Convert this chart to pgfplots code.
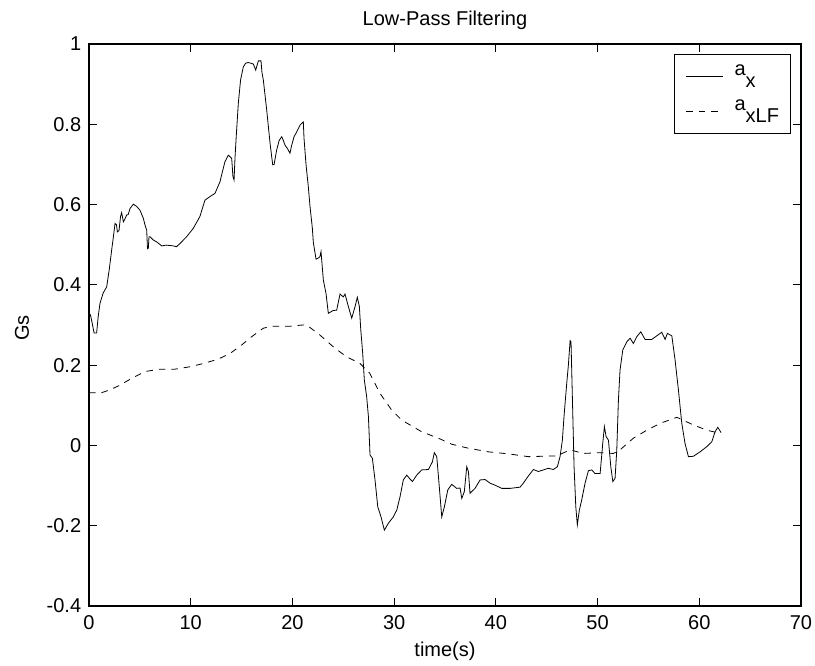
\documentclass[border=0pt]{standalone}
\usepackage{pgfplots}
\pgfplotsset{compat=1.18}
\usepackage{fontspec}
\setmainfont{Liberation Sans}
\begin{document}
\fontsize{20}{24}\selectfont
\begin{tikzpicture}
\useasboundingbox (0,0) rectangle (815pt,666pt);
\begin{axis}[
  at={(89pt,60pt)}, anchor=south west,
  scale only axis, width=712pt, height=562pt,
  xmin=0, xmax=70, ymin=-0.4, ymax=1,
  xtick={0,10,20,30,40,50,60,70},
  ytick={-0.4,-0.2,0,0.2,0.4,0.6,0.8,1},
  tick align=inside, major tick length=8pt,
  axis line style={line width=1.1pt, black},
  tick style={line width=0.8pt, black},
  /pgf/number format/assume math mode=true,
  ticklabel style={font=\fontsize{20}{24}\selectfont},
  xticklabel style={yshift=-3pt},
  yticklabel style={xshift=-1pt},
  title={Low-Pass Filtering},
  every axis title/.style={at={(axis description cs:0.5,1)}, anchor=base, yshift=18pt, font=\fontsize{20}{24}\selectfont},
  xlabel={time(s)},
  every axis x label/.style={at={(axis description cs:0.5,-0.0907)}, anchor=base, font=\fontsize{20}{24}\selectfont},
  ylabel={Gs},
  every axis y label/.style={at={(axis description cs:-0.0843,0.495)}, rotate=90, anchor=base, font=\fontsize{20}{24}\selectfont},
  legend style={at={(1,1)}, anchor=north east, xshift=-10pt, yshift=-10pt,
    draw=black, line width=0.9pt, fill=white,
    inner xsep=11.5pt, inner ysep=9pt, row sep=9pt, column sep=11pt,
    font=\fontsize{20}{24}\selectfont,
    nodes={inner sep=0pt, text height=12pt, text depth=14pt}},
  legend cell align=left,
  legend image code/.code={\draw[#1, line width=0.8pt] (0pt,0pt) -- (37pt,0pt);},
]
\addplot[black, line width=0.8pt] coordinates {
(0.0,0.32) (0.15,0.325) (0.35,0.30) (0.5,0.28) (0.75,0.28) (0.9,0.32)
(1.08,0.354) (1.4,0.38) (1.74,0.395) (2.0,0.44) (2.23,0.487) (2.45,0.53)
(2.56,0.553) (2.7,0.55) (2.79,0.532) (2.95,0.535) (3.1,0.57) (3.21,0.58)
(3.38,0.557) (3.55,0.565) (3.7,0.574) (3.85,0.575) (4.03,0.59) (4.36,0.601)
(4.7,0.595) (5.01,0.586) (5.34,0.566) (5.55,0.545) (5.67,0.537) (5.75,0.49)
(5.83,0.491) (5.9,0.52) (6.0,0.52) (6.3,0.512) (6.65,0.507) (7.15,0.497)
(7.6,0.499) (8.29,0.497) (8.6,0.495) (8.95,0.503) (9.6,0.52) (10.26,0.541)
(10.9,0.57) (11.4,0.611) (11.9,0.62) (12.39,0.628) (12.88,0.657) (13.1,0.68)
(13.37,0.707) (13.7,0.723) (14.03,0.715) (14.15,0.67) (14.26,0.661) (14.36,0.719)
(14.5,0.78) (14.68,0.852) (14.9,0.91) (15.17,0.943) (15.4,0.952) (15.66,0.954)
(16.16,0.950) (16.39,0.935) (16.65,0.958) (16.91,0.958) (17.0,0.93) (17.14,0.910)
(17.47,0.836) (17.8,0.753) (18.06,0.699) (18.2,0.70) (18.45,0.736) (18.7,0.76)
(18.95,0.769) (19.1,0.76) (19.27,0.748) (19.5,0.74) (19.76,0.728) (19.9,0.745)
(20.16,0.769) (20.4,0.78) (20.75,0.798) (21.07,0.806) (21.14,0.765) (21.34,0.699)
(21.56,0.645) (21.73,0.595) (21.96,0.541) (22.05,0.507) (22.32,0.464) (22.5,0.466)
(22.7,0.47) (22.81,0.483) (23.04,0.412) (23.3,0.379) (23.53,0.329) (24.0,0.336)
(24.35,0.337) (24.68,0.377) (25.0,0.37) (25.17,0.377) (25.5,0.346) (25.83,0.317)
(26.16,0.346) (26.38,0.369) (26.58,0.346) (26.72,0.288) (26.91,0.229) (27.07,0.163)
(27.3,0.121) (27.47,0.072) (27.63,-0.024) (27.86,-0.032) (28.12,-0.086) (28.39,-0.153)
(28.71,-0.178) (29.04,-0.211) (29.43,-0.194) (29.92,-0.178) (30.26,-0.161) (30.58,-0.128)
(30.9,-0.086) (31.24,-0.074) (31.5,-0.082) (31.8,-0.09) (32.22,-0.074) (32.71,-0.061)
(33.37,-0.06) (33.76,-0.041) (33.95,-0.018) (34.19,-0.028) (34.41,-0.094) (34.68,-0.178)
(34.94,-0.153) (35.27,-0.111) (35.66,-0.097) (36.15,-0.107) (36.48,-0.106) (36.65,-0.132)
(36.9,-0.115) (37.14,-0.053) (37.3,-0.065) (37.46,-0.119) (37.95,-0.107) (38.45,-0.086)
(38.94,-0.085) (39.43,-0.094) (39.92,-0.099) (40.58,-0.107) (41.4,-0.107) (42.38,-0.104)
(42.7,-0.094) (43.2,-0.076) (43.69,-0.06) (44.18,-0.065) (44.67,-0.061) (45.16,-0.057)
(45.65,-0.06) (46.05,-0.053) (46.31,-0.028) (46.54,0.013) (46.7,0.072) (46.97,0.155)
(47.13,0.2) (47.3,0.261) (47.39,0.258) (47.53,0.113) (47.69,-0.053) (47.86,-0.153)
(48.01,-0.198) (48.21,-0.161) (48.44,-0.136) (48.77,-0.094) (49.1,-0.063) (49.43,-0.061)
(49.75,-0.07) (50.25,-0.07) (50.51,0.005) (50.67,0.047) (50.84,0.022) (51.07,0.013)
(51.3,-0.053) (51.5,-0.09) (51.72,-0.082) (51.89,-0.011) (52.05,0.113) (52.21,0.188)
(52.48,0.238) (52.87,0.258) (53.2,0.267) (53.52,0.254) (53.86,0.271) (54.25,0.283)
(54.67,0.264) (55.33,0.264) (55.82,0.273) (56.31,0.282) (56.64,0.264) (56.86,0.279)
(57.3,0.273) (57.62,0.213) (57.95,0.138) (58.28,0.055) (58.6,0.005) (58.93,-0.028)
(59.42,-0.027) (60.08,-0.016) (60.74,-0.003) (61.23,0.009) (61.55,0.034) (61.82,0.045)
(62.14,0.032)
};
\addlegendentry{a\raisebox{-12pt}{x}}
\addplot[black, line width=0.8pt, dash pattern=on 6.5pt off 6pt] coordinates {
(0,0.131) (1.2,0.131) (2.0,0.138) (2.88,0.148) (4.2,0.167) (5.5,0.184)
(6.98,0.19) (8.46,0.19) (9.93,0.196) (11.24,0.204) (12.71,0.215) (13.86,0.229)
(15.0,0.25) (16.0,0.271) (17.14,0.292) (18.0,0.297) (19.8,0.297) (21.0,0.30)
(21.4,0.30) (22.7,0.275) (24.0,0.246) (25.3,0.221) (26.6,0.205) (27.6,0.18)
(28.6,0.13) (29.76,0.088) (30.75,0.063) (32.71,0.034) (34.35,0.018) (35.66,0.003)
(37.3,-0.007) (39.26,-0.016) (41.23,-0.021) (43.2,-0.028) (46.0,-0.026) (47.3,-0.011)
(48.6,-0.02) (50.25,-0.018) (51.56,-0.02) (52.21,-0.011) (53.52,0.018) (54.84,0.038)
(56.15,0.055) (57.8,0.07) (59.42,0.051) (60.74,0.038) (61.73,0.032) (62.1,0.03)
};
\addlegendentry{a\raisebox{-12pt}{xLF}}
\end{axis}
\end{tikzpicture}
\end{document}
